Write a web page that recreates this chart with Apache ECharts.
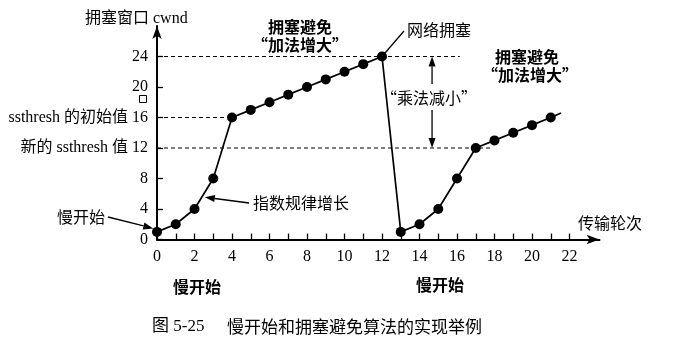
<!DOCTYPE html>
<html>
<head>
<meta charset="utf-8">
<script src="https://cdn.jsdelivr.net/npm/echarts@6/dist/echarts.min.js"></script>
<style>html,body{margin:0;padding:0;background:#fff}#c{width:673px;height:356px}</style>
</head>
<body>
<div id="c"></div>
<script>
// ---- data ----
const rounds = [0,1,2,3,4,5,6,7,8,9,10,11,12,13,14,15,16,17,18,19,20,21];
const cwnd   = [1,2,4,8,16,17,18,19,20,21,22,23,24,1,2,4,8,12,13,14,15,16];
const tail = [[21,16],[21.55,16.6]];
const xTickValues = [0,1,2,3,4,5,6,7,8,9,10,11,12,13,14,15,16,17,18,19,20,21,22];
const xLabelValues = [0,2,4,6,8,10,12,14,16,18,20,22];
const yLabelValues = [0,4,8,12,16,20,24];
const thresholdLevels = [24,16,12];
const thresholdEnds = [16.15,4,17.9];

const SERIF = '"Liberation Serif", "Noto Sans CJK SC", serif';
const CJK = '"Noto Sans CJK SC", sans-serif';

const chart = echarts.init(document.getElementById('c'), null, {renderer:'canvas'});

const series = [];
thresholdLevels.forEach((lv,i)=>{
  series.push({type:'line', data:[[0,lv],[thresholdEnds[i],lv]], symbol:'none', silent:true,
    lineStyle:{color:'#000', width:1, type:[4,3]}, z:1, animation:false});
});
series.push({type:'line', data:tail, symbol:'none', lineStyle:{color:'#000', width:1.6}, z:2, animation:false});
series.push({type:'line', data:rounds.map((r,i)=>[r,cwnd[i]]), symbol:'circle', symbolSize:10,
  itemStyle:{color:'#000'}, lineStyle:{color:'#000', width:1.7}, z:3, animation:false});

chart.setOption({
  animation:false,
  grid:{left:157, right:73.5, top:26, bottom:116.5},
  xAxis:{type:'value', min:0, max:23.6,
    axisLine:{lineStyle:{color:'#000', width:2}, symbol:['none','arrow'], symbolSize:[7,13]},
    axisTick:{inside:true, length:6, lineStyle:{color:'#000', width:1.3}, customValues:xTickValues},
    axisLabel:{customValues:xLabelValues, color:'#000', fontSize:16, fontFamily:SERIF, margin:9},
    splitLine:{show:false}},
  yAxis:{type:'value', min:0, max:28,
    axisLine:{show:true, lineStyle:{color:'#000', width:2}, symbol:['none','arrow'], symbolSize:[7,13]},
    axisTick:{show:true, inside:true, length:6, lineStyle:{color:'#000', width:1.3}, customValues:yLabelValues},
    axisLabel:{customValues:yLabelValues, color:'#000', fontSize:16, fontFamily:SERIF, margin:9},
    splitLine:{show:false}},
  series:series
});

const P = d => chart.convertToPixel({gridIndex:0}, d);
function arrow(a, b, w){
  const ang = Math.atan2(b[1]-a[1], b[0]-a[0]);
  const L = 10, W = 3.5, c = Math.cos(ang), s = Math.sin(ang);
  const base = [b[0]-L*c, b[1]-L*s];
  return [
    {type:'line', shape:{x1:a[0], y1:a[1], x2:base[0], y2:base[1]}, style:{stroke:'#000', lineWidth:w||1.3}},
    {type:'polygon', shape:{points:[b,[base[0]-W*s, base[1]+W*c],[base[0]+W*s, base[1]-W*c]]}, style:{fill:'#000'}}
  ];
}
function txt(t, x, y, o){
  o = o || {};
  return {type:'text', x:x, y:y, style:{text:t, fill:'#000', fontSize:o.size||16, fontFamily:o.font||SERIF,
    fontWeight:o.bold?'bold':'normal', align:o.align||'center', verticalAlign:'middle'}};
}

const g = [];
g.push(txt('拥塞窗口 cwnd', 85, 19, {align:'left'}));
g.push(txt('传输轮次', 578, 223, {align:'left', font:CJK}));
g.push(txt('ssthresh 的初始值', 128, 118, {align:'right'}));
g.push(txt('新的 ssthresh 值', 128, 148, {align:'right'}));
g.push(txt('拥塞避免', 300, 27, {bold:true, font:CJK}));
g.push(txt('“加法增大”', 300, 45, {bold:true, font:CJK}));
g.push(txt('拥塞避免', 527, 57, {bold:true, font:CJK}));
g.push(txt('“加法增大”', 530, 75, {bold:true, font:CJK}));
g.push(txt('网络拥塞', 407, 30, {align:'left', font:CJK}));
g.push(txt('“乘法减小”', 429, 98, {font:CJK}));
g.push(txt('慢开始', 105, 217, {align:'right', font:CJK}));
g.push(txt('指数规律增长', 253, 203, {align:'left', font:CJK}));
g.push(txt('慢开始', 197, 287, {bold:true, font:CJK}));
g.push(txt('慢开始', 440, 285, {bold:true, font:CJK}));
g.push(txt('图 5-25', 152, 327, {align:'left', size:17}));
g.push(txt('慢开始和拥塞避免算法的实现举例', 227, 327, {align:'left', size:17, font:CJK}));
g.push({type:'rect', shape:{x:139.5, y:95.5, width:7, height:7}, style:{fill:'none', stroke:'#000', lineWidth:1}});

// leader line to 网络拥塞
const peak = P([12,24]);
g.push({type:'line', shape:{x1:peak[0], y1:peak[1], x2:404, y2:31}, style:{stroke:'#000', lineWidth:1.3}});
// annotation arrows
g.push(...arrow([108,217], P([-0.2,1.45])));
g.push(...arrow([249,203], P([2.55,5.55])));
// 乘法减小 double arrow
const top24 = P([14.67,24]), bot12 = P([14.67,12]);
g.push(...arrow([top24[0], 84], top24));
g.push(...arrow([bot12[0], 110], bot12));

chart.setOption({graphic:g});
</script>
</body>
</html>
